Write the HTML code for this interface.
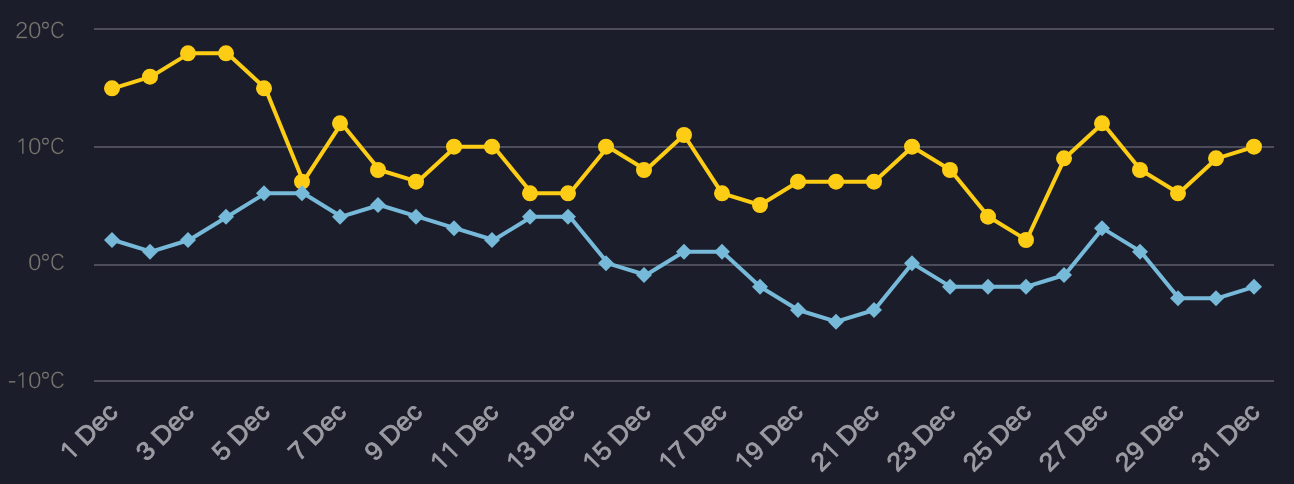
<!DOCTYPE html>
<html><head><meta charset="utf-8"><title>Temperatures</title>
<style>
html,body{margin:0;padding:0;background:#1c1d2a;}
body{width:1294px;height:484px;overflow:hidden;font-family:"Liberation Sans",sans-serif;}
svg{display:block;will-change:transform;font-family:"Liberation Sans",sans-serif;}
</style></head><body>
<svg width="1294" height="484" viewBox="0 0 1294 484">
<rect x="0" y="0" width="1294" height="484" fill="#1c1d2a"/>

<rect x="94" y="28" width="1180" height="2" fill="#4c4c5b"/>
<rect x="94" y="146" width="1180" height="2" fill="#4c4c5b"/>
<rect x="94" y="264" width="1180" height="2" fill="#4c4c5b"/>
<rect x="94" y="380" width="1180" height="2" fill="#4c4c5b"/>
<g fill="#787670"><text transform="translate(15.02 38.3) rotate(0.03) scale(1.0198 1)" font-size="23.57" stroke="#1c1d2a" stroke-width="0.55">2</text><text transform="translate(27.88 38.3) rotate(0.03) scale(1.0251 1)" font-size="23.57" stroke="#1c1d2a" stroke-width="0.55">0</text><circle cx="45.45" cy="25.25" r="2.85" fill="none" stroke="#787670" stroke-width="1.1"/><text transform="translate(49.89 38.3) rotate(0.03) scale(0.8676 1)" font-size="23.57" stroke="#1c1d2a" stroke-width="0.55">C</text></g>
<g fill="#787670"><path transform="translate(16.1 154.00) scale(0.010742 -0.010742)" d="M711 0H549V1255L272 1049L184 1163L571 1462H711Z" stroke="#1c1d2a" stroke-width="37.2"/><text transform="translate(27.88 154.3) rotate(0.03) scale(1.0251 1)" font-size="23.57" stroke="#1c1d2a" stroke-width="0.55">0</text><circle cx="45.45" cy="141.25" r="2.85" fill="none" stroke="#787670" stroke-width="1.1"/><text transform="translate(49.89 154.3) rotate(0.03) scale(0.8676 1)" font-size="23.57" stroke="#1c1d2a" stroke-width="0.55">C</text></g>
<g fill="#787670"><text transform="translate(27.88 270.3) rotate(0.03) scale(1.0251 1)" font-size="23.57" stroke="#1c1d2a" stroke-width="0.55">0</text><circle cx="45.45" cy="257.25" r="2.85" fill="none" stroke="#787670" stroke-width="1.1"/><text transform="translate(49.89 270.3) rotate(0.03) scale(0.8676 1)" font-size="23.57" stroke="#1c1d2a" stroke-width="0.55">C</text></g>
<g fill="#787670"><rect x="8.9" y="381.10" width="6.4" height="1.45"/><path transform="translate(16.1 388.00) scale(0.010742 -0.010742)" d="M711 0H549V1255L272 1049L184 1163L571 1462H711Z" stroke="#1c1d2a" stroke-width="37.2"/><text transform="translate(27.88 388.3) rotate(0.03) scale(1.0251 1)" font-size="23.57" stroke="#1c1d2a" stroke-width="0.55">0</text><circle cx="45.45" cy="375.25" r="2.85" fill="none" stroke="#787670" stroke-width="1.1"/><text transform="translate(49.89 388.3) rotate(0.03) scale(0.8676 1)" font-size="23.57" stroke="#1c1d2a" stroke-width="0.55">C</text></g>
<path d="M113.03 88.33 L151.10 76.67 L189.16 53.33 L227.23 53.33 L265.29 88.33 L303.35 181.67 L341.42 123.33 L379.48 170.00 L417.55 181.67 L455.61 146.67 L493.68 146.67 L531.74 193.33 L569.81 193.33 L607.87 146.67 L645.94 170.00 L684.00 135.00 L722.06 193.33 L760.13 205.00 L798.19 181.67 L836.26 181.67 L874.32 181.67 L912.39 146.67 L950.45 170.00 L988.52 216.67 L1026.58 240.00 L1064.65 158.33 L1102.71 123.33 L1140.77 170.00 L1178.84 193.33 L1216.90 158.33 L1254.97 146.67" fill="none" stroke="#fdcd15" stroke-width="4" stroke-linejoin="round" stroke-linecap="round"/>
<circle cx="112.00" cy="88.33" r="8" fill="#fdcd15"/>
<circle cx="150.00" cy="76.67" r="8" fill="#fdcd15"/>
<circle cx="188.00" cy="53.33" r="8" fill="#fdcd15"/>
<circle cx="226.00" cy="53.33" r="8" fill="#fdcd15"/>
<circle cx="264.00" cy="88.33" r="8" fill="#fdcd15"/>
<circle cx="302.00" cy="181.67" r="8" fill="#fdcd15"/>
<circle cx="340.00" cy="123.33" r="8" fill="#fdcd15"/>
<circle cx="378.00" cy="170.00" r="8" fill="#fdcd15"/>
<circle cx="416.00" cy="181.67" r="8" fill="#fdcd15"/>
<circle cx="454.00" cy="146.67" r="8" fill="#fdcd15"/>
<circle cx="492.00" cy="146.67" r="8" fill="#fdcd15"/>
<circle cx="530.00" cy="193.33" r="8" fill="#fdcd15"/>
<circle cx="568.00" cy="193.33" r="8" fill="#fdcd15"/>
<circle cx="606.00" cy="146.67" r="8" fill="#fdcd15"/>
<circle cx="644.00" cy="170.00" r="8" fill="#fdcd15"/>
<circle cx="684.00" cy="135.00" r="8" fill="#fdcd15"/>
<circle cx="722.00" cy="193.33" r="8" fill="#fdcd15"/>
<circle cx="760.00" cy="205.00" r="8" fill="#fdcd15"/>
<circle cx="798.00" cy="181.67" r="8" fill="#fdcd15"/>
<circle cx="836.00" cy="181.67" r="8" fill="#fdcd15"/>
<circle cx="874.00" cy="181.67" r="8" fill="#fdcd15"/>
<circle cx="912.00" cy="146.67" r="8" fill="#fdcd15"/>
<circle cx="950.00" cy="170.00" r="8" fill="#fdcd15"/>
<circle cx="988.00" cy="216.67" r="8" fill="#fdcd15"/>
<circle cx="1026.00" cy="240.00" r="8" fill="#fdcd15"/>
<circle cx="1064.00" cy="158.33" r="8" fill="#fdcd15"/>
<circle cx="1102.00" cy="123.33" r="8" fill="#fdcd15"/>
<circle cx="1140.00" cy="170.00" r="8" fill="#fdcd15"/>
<circle cx="1178.00" cy="193.33" r="8" fill="#fdcd15"/>
<circle cx="1216.00" cy="158.33" r="8" fill="#fdcd15"/>
<circle cx="1254.00" cy="146.67" r="8" fill="#fdcd15"/>
<path d="M113.03 240.00 L151.10 251.67 L189.16 240.00 L227.23 216.67 L265.29 193.33 L303.35 193.33 L341.42 216.67 L379.48 205.00 L417.55 216.67 L455.61 228.33 L493.68 240.00 L531.74 216.67 L569.81 216.67 L607.87 263.33 L645.94 275.00 L684.00 251.67 L722.06 251.67 L760.13 286.67 L798.19 310.00 L836.26 321.67 L874.32 310.00 L912.39 263.33 L950.45 286.67 L988.52 286.67 L1026.58 286.67 L1064.65 275.00 L1102.71 228.33 L1140.77 251.67 L1178.84 298.33 L1216.90 298.33 L1254.97 286.67" fill="none" stroke="#76b9d9" stroke-width="4" stroke-linejoin="round" stroke-linecap="round"/>
<path d="M112.00 232.00L120.00 240.00L112.00 248.00L104.00 240.00Z" fill="#76b9d9"/>
<path d="M150.00 243.67L158.00 251.67L150.00 259.67L142.00 251.67Z" fill="#76b9d9"/>
<path d="M188.00 232.00L196.00 240.00L188.00 248.00L180.00 240.00Z" fill="#76b9d9"/>
<path d="M226.00 208.67L234.00 216.67L226.00 224.67L218.00 216.67Z" fill="#76b9d9"/>
<path d="M264.00 185.33L272.00 193.33L264.00 201.33L256.00 193.33Z" fill="#76b9d9"/>
<path d="M302.00 185.33L310.00 193.33L302.00 201.33L294.00 193.33Z" fill="#76b9d9"/>
<path d="M340.00 208.67L348.00 216.67L340.00 224.67L332.00 216.67Z" fill="#76b9d9"/>
<path d="M378.00 197.00L386.00 205.00L378.00 213.00L370.00 205.00Z" fill="#76b9d9"/>
<path d="M416.00 208.67L424.00 216.67L416.00 224.67L408.00 216.67Z" fill="#76b9d9"/>
<path d="M454.00 220.33L462.00 228.33L454.00 236.33L446.00 228.33Z" fill="#76b9d9"/>
<path d="M492.00 232.00L500.00 240.00L492.00 248.00L484.00 240.00Z" fill="#76b9d9"/>
<path d="M530.00 208.67L538.00 216.67L530.00 224.67L522.00 216.67Z" fill="#76b9d9"/>
<path d="M568.00 208.67L576.00 216.67L568.00 224.67L560.00 216.67Z" fill="#76b9d9"/>
<path d="M606.00 255.33L614.00 263.33L606.00 271.33L598.00 263.33Z" fill="#76b9d9"/>
<path d="M644.00 267.00L652.00 275.00L644.00 283.00L636.00 275.00Z" fill="#76b9d9"/>
<path d="M684.00 243.67L692.00 251.67L684.00 259.67L676.00 251.67Z" fill="#76b9d9"/>
<path d="M722.00 243.67L730.00 251.67L722.00 259.67L714.00 251.67Z" fill="#76b9d9"/>
<path d="M760.00 278.67L768.00 286.67L760.00 294.67L752.00 286.67Z" fill="#76b9d9"/>
<path d="M798.00 302.00L806.00 310.00L798.00 318.00L790.00 310.00Z" fill="#76b9d9"/>
<path d="M836.00 313.67L844.00 321.67L836.00 329.67L828.00 321.67Z" fill="#76b9d9"/>
<path d="M874.00 302.00L882.00 310.00L874.00 318.00L866.00 310.00Z" fill="#76b9d9"/>
<path d="M912.00 255.33L920.00 263.33L912.00 271.33L904.00 263.33Z" fill="#76b9d9"/>
<path d="M950.00 278.67L958.00 286.67L950.00 294.67L942.00 286.67Z" fill="#76b9d9"/>
<path d="M988.00 278.67L996.00 286.67L988.00 294.67L980.00 286.67Z" fill="#76b9d9"/>
<path d="M1026.00 278.67L1034.00 286.67L1026.00 294.67L1018.00 286.67Z" fill="#76b9d9"/>
<path d="M1064.00 267.00L1072.00 275.00L1064.00 283.00L1056.00 275.00Z" fill="#76b9d9"/>
<path d="M1102.00 220.33L1110.00 228.33L1102.00 236.33L1094.00 228.33Z" fill="#76b9d9"/>
<path d="M1140.00 243.67L1148.00 251.67L1140.00 259.67L1132.00 251.67Z" fill="#76b9d9"/>
<path d="M1178.00 290.33L1186.00 298.33L1178.00 306.33L1170.00 298.33Z" fill="#76b9d9"/>
<path d="M1216.00 290.33L1224.00 298.33L1216.00 306.33L1208.00 298.33Z" fill="#76b9d9"/>
<path d="M1254.00 278.67L1262.00 286.67L1254.00 294.67L1246.00 286.67Z" fill="#76b9d9"/>
<g transform="translate(119.23 413.5) rotate(-45)" fill="#9b9ba3"><text transform="scale(1.045 1)" text-anchor="end" font-size="25.5" stroke="#9b9ba3" stroke-width="0.85"> Dec</text><path transform="translate(-69.11 0) scale(0.012695 -0.012695)" d="M790 0H565V1185L275 965L150 1120L595 1462H790Z"/></g>
<g transform="translate(195.36 413.5) rotate(-45)" fill="#9b9ba3"><text transform="scale(1.045 1)" text-anchor="end" font-size="25.5" stroke="#9b9ba3" stroke-width="0.85"> Dec</text><text transform="translate(-69.11 0) scale(1.045 1)" font-size="25.5" stroke="#9b9ba3" stroke-width="0.85">3</text></g>
<g transform="translate(271.49 413.5) rotate(-45)" fill="#9b9ba3"><text transform="scale(1.045 1)" text-anchor="end" font-size="25.5" stroke="#9b9ba3" stroke-width="0.85"> Dec</text><text transform="translate(-69.11 0) scale(1.045 1)" font-size="25.5" stroke="#9b9ba3" stroke-width="0.85">5</text></g>
<g transform="translate(347.62 413.5) rotate(-45)" fill="#9b9ba3"><text transform="scale(1.045 1)" text-anchor="end" font-size="25.5" stroke="#9b9ba3" stroke-width="0.85"> Dec</text><text transform="translate(-69.11 0) scale(1.045 1)" font-size="25.5" stroke="#9b9ba3" stroke-width="0.85">7</text></g>
<g transform="translate(423.75 413.5) rotate(-45)" fill="#9b9ba3"><text transform="scale(1.045 1)" text-anchor="end" font-size="25.5" stroke="#9b9ba3" stroke-width="0.85"> Dec</text><text transform="translate(-69.11 0) scale(1.045 1)" font-size="25.5" stroke="#9b9ba3" stroke-width="0.85">9</text></g>
<g transform="translate(499.88 413.5) rotate(-45)" fill="#9b9ba3"><text transform="scale(1.045 1)" text-anchor="end" font-size="25.5" stroke="#9b9ba3" stroke-width="0.85"> Dec</text><path transform="translate(-83.92 0) scale(0.012695 -0.012695)" d="M790 0H565V1185L275 965L150 1120L595 1462H790Z"/><path transform="translate(-69.11 0) scale(0.012695 -0.012695)" d="M790 0H565V1185L275 965L150 1120L595 1462H790Z"/></g>
<g transform="translate(576.01 413.5) rotate(-45)" fill="#9b9ba3"><text transform="scale(1.045 1)" text-anchor="end" font-size="25.5" stroke="#9b9ba3" stroke-width="0.85"> Dec</text><path transform="translate(-83.92 0) scale(0.012695 -0.012695)" d="M790 0H565V1185L275 965L150 1120L595 1462H790Z"/><text transform="translate(-69.11 0) scale(1.045 1)" font-size="25.5" stroke="#9b9ba3" stroke-width="0.85">3</text></g>
<g transform="translate(652.14 413.5) rotate(-45)" fill="#9b9ba3"><text transform="scale(1.045 1)" text-anchor="end" font-size="25.5" stroke="#9b9ba3" stroke-width="0.85"> Dec</text><path transform="translate(-83.92 0) scale(0.012695 -0.012695)" d="M790 0H565V1185L275 965L150 1120L595 1462H790Z"/><text transform="translate(-69.11 0) scale(1.045 1)" font-size="25.5" stroke="#9b9ba3" stroke-width="0.85">5</text></g>
<g transform="translate(728.26 413.5) rotate(-45)" fill="#9b9ba3"><text transform="scale(1.045 1)" text-anchor="end" font-size="25.5" stroke="#9b9ba3" stroke-width="0.85"> Dec</text><path transform="translate(-83.92 0) scale(0.012695 -0.012695)" d="M790 0H565V1185L275 965L150 1120L595 1462H790Z"/><text transform="translate(-69.11 0) scale(1.045 1)" font-size="25.5" stroke="#9b9ba3" stroke-width="0.85">7</text></g>
<g transform="translate(804.39 413.5) rotate(-45)" fill="#9b9ba3"><text transform="scale(1.045 1)" text-anchor="end" font-size="25.5" stroke="#9b9ba3" stroke-width="0.85"> Dec</text><path transform="translate(-83.92 0) scale(0.012695 -0.012695)" d="M790 0H565V1185L275 965L150 1120L595 1462H790Z"/><text transform="translate(-69.11 0) scale(1.045 1)" font-size="25.5" stroke="#9b9ba3" stroke-width="0.85">9</text></g>
<g transform="translate(880.52 413.5) rotate(-45)" fill="#9b9ba3"><text transform="scale(1.045 1)" text-anchor="end" font-size="25.5" stroke="#9b9ba3" stroke-width="0.85"> Dec</text><text transform="translate(-83.92 0) scale(1.045 1)" font-size="25.5" stroke="#9b9ba3" stroke-width="0.85">2</text><path transform="translate(-69.11 0) scale(0.012695 -0.012695)" d="M790 0H565V1185L275 965L150 1120L595 1462H790Z"/></g>
<g transform="translate(956.65 413.5) rotate(-45)" fill="#9b9ba3"><text transform="scale(1.045 1)" text-anchor="end" font-size="25.5" stroke="#9b9ba3" stroke-width="0.85"> Dec</text><text transform="translate(-83.92 0) scale(1.045 1)" font-size="25.5" stroke="#9b9ba3" stroke-width="0.85">2</text><text transform="translate(-69.11 0) scale(1.045 1)" font-size="25.5" stroke="#9b9ba3" stroke-width="0.85">3</text></g>
<g transform="translate(1032.78 413.5) rotate(-45)" fill="#9b9ba3"><text transform="scale(1.045 1)" text-anchor="end" font-size="25.5" stroke="#9b9ba3" stroke-width="0.85"> Dec</text><text transform="translate(-83.92 0) scale(1.045 1)" font-size="25.5" stroke="#9b9ba3" stroke-width="0.85">2</text><text transform="translate(-69.11 0) scale(1.045 1)" font-size="25.5" stroke="#9b9ba3" stroke-width="0.85">5</text></g>
<g transform="translate(1108.91 413.5) rotate(-45)" fill="#9b9ba3"><text transform="scale(1.045 1)" text-anchor="end" font-size="25.5" stroke="#9b9ba3" stroke-width="0.85"> Dec</text><text transform="translate(-83.92 0) scale(1.045 1)" font-size="25.5" stroke="#9b9ba3" stroke-width="0.85">2</text><text transform="translate(-69.11 0) scale(1.045 1)" font-size="25.5" stroke="#9b9ba3" stroke-width="0.85">7</text></g>
<g transform="translate(1185.04 413.5) rotate(-45)" fill="#9b9ba3"><text transform="scale(1.045 1)" text-anchor="end" font-size="25.5" stroke="#9b9ba3" stroke-width="0.85"> Dec</text><text transform="translate(-83.92 0) scale(1.045 1)" font-size="25.5" stroke="#9b9ba3" stroke-width="0.85">2</text><text transform="translate(-69.11 0) scale(1.045 1)" font-size="25.5" stroke="#9b9ba3" stroke-width="0.85">9</text></g>
<g transform="translate(1261.17 413.5) rotate(-45)" fill="#9b9ba3"><text transform="scale(1.045 1)" text-anchor="end" font-size="25.5" stroke="#9b9ba3" stroke-width="0.85"> Dec</text><text transform="translate(-83.92 0) scale(1.045 1)" font-size="25.5" stroke="#9b9ba3" stroke-width="0.85">3</text><path transform="translate(-69.11 0) scale(0.012695 -0.012695)" d="M790 0H565V1185L275 965L150 1120L595 1462H790Z"/></g>
</svg></body></html>
